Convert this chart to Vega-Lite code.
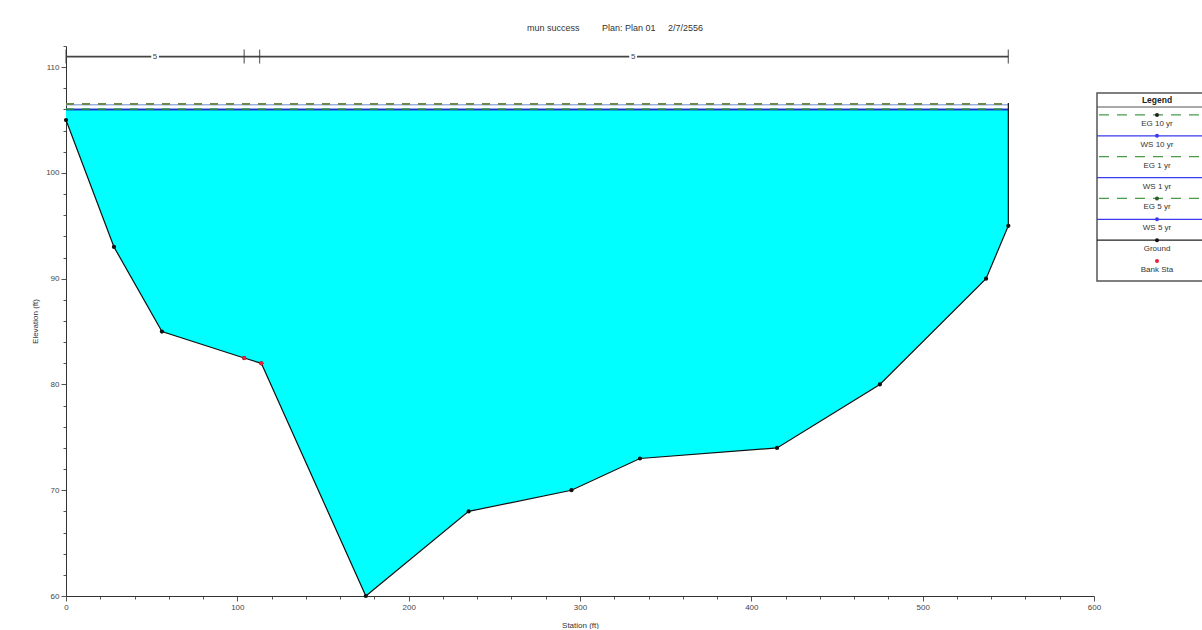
{
  "$schema": "https://vega.github.io/schema/vega-lite/v6.json",
  "autosize": {"type": "pad"},
  "padding": {"left": 31, "top": 24, "right": 0, "bottom": 0},
  "background": "white",
  "bounds": "flush",
  "spacing": 3,
  "config": {
    "view": {"stroke": null},
    "font": "Liberation Sans",
    "axis": {"grid": false}
  },
  "datasets": {
    "ground": [
      {"station": 0, "elev": 105, "ws": 106},
      {"station": 28, "elev": 93, "ws": 106},
      {"station": 56, "elev": 85, "ws": 106},
      {"station": 104, "elev": 82.5, "ws": 106},
      {"station": 114, "elev": 82, "ws": 106},
      {"station": 175, "elev": 60, "ws": 106},
      {"station": 235, "elev": 68, "ws": 106},
      {"station": 295, "elev": 70, "ws": 106},
      {"station": 335, "elev": 73, "ws": 106},
      {"station": 415, "elev": 74, "ws": 106},
      {"station": 475, "elev": 80, "ws": 106},
      {"station": 537, "elev": 90, "ws": 106},
      {"station": 550, "elev": 95, "ws": 106}
    ],
    "wall": [{"station": 550, "from": 95, "to": 106.6}],
    "bank": [{"station": 104, "elev": 82.5}, {"station": 114, "elev": 82}],
    "ws": [
      {"profile": "WS 10 yr", "station": 0, "elev": 106.45},
      {"profile": "WS 10 yr", "station": 550, "elev": 106.45},
      {"profile": "WS 1 yr", "station": 0, "elev": 106.0},
      {"profile": "WS 1 yr", "station": 550, "elev": 106.0},
      {"profile": "WS 5 yr", "station": 0, "elev": 106.0},
      {"profile": "WS 5 yr", "station": 550, "elev": 106.0}
    ],
    "eg": [
      {"profile": "EG 10 yr", "station": 0, "elev": 106.55},
      {"profile": "EG 10 yr", "station": 550, "elev": 106.55},
      {"profile": "EG 5 yr", "station": 0, "elev": 106.5},
      {"profile": "EG 5 yr", "station": 550, "elev": 106.5},
      {"profile": "EG 1 yr", "station": 0, "elev": 106.05},
      {"profile": "EG 1 yr", "station": 550, "elev": 106.05}
    ],
    "topbar": [{"from": 0, "to": 550, "elev": 111}],
    "topticks": [
      {"station": 0, "elev": 111},
      {"station": 104, "elev": 111},
      {"station": 113, "elev": 111},
      {"station": 550, "elev": 111}
    ],
    "toplabels": [
      {"station": 52, "elev": 111, "n": "5"},
      {"station": 331, "elev": 111, "n": "5"}
    ],
    "legend": [
      {"series": "Legend"},
      {"series": "EG 10 yr"},
      {"series": "WS 10 yr"},
      {"series": "EG 1 yr"},
      {"series": "WS 1 yr"},
      {"series": "EG 5 yr"},
      {"series": "WS 5 yr"},
      {"series": "Ground"},
      {"series": "Bank Sta"}
    ]
  },
  "hconcat": [
    {
      "width": 1028,
      "height": 550,
      "title": {
        "text": "mun success\u00a0\u00a0\u00a0\u00a0\u00a0\u00a0\u00a0\u00a0\u00a0Plan: Plan 01\u00a0\u00a0\u00a0\u00a0\u00a02/7/2556",
        "anchor": "middle",
        "dx": 35,
        "offset": 9,
        "fontSize": 9,
        "fontWeight": "normal",
        "color": "#333"
      },
      "layer": [
        {
          "data": {"name": "ground"},
          "mark": {"type": "area", "color": "#00ffff"},
          "encoding": {
            "x": {
              "field": "station",
              "type": "quantitative",
              "scale": {"domain": [0, 600], "nice": false},
              "axis": {
                "title": "Station (ft)",
                "values": [0, 20, 40, 60, 80, 100, 120, 140, 160, 180, 200, 220, 240, 260, 280, 300, 320, 340, 360, 380, 400, 420, 440, 460, 480, 500, 520, 540, 560, 580, 600],
                "tickCount": 100,
                "format": "d",
                "labelExpr": "datum.value % 100 === 0 ? datum.label : ''",
                "labelOverlap": false,
                "tickSize": {"condition": {"test": "datum.value % 100 === 0", "value": 5}, "value": 3},
                "labelFontSize": 8,
                "labelColor": "#444",
                "labelPadding": 2,
                "labelFlush": false,
                "titleFontSize": 8,
                "titleFontWeight": "normal",
                "titleColor": "#333",
                "titlePadding": 10,
                "domainColor": "#333",
                "tickColor": "#555"
              }
            },
            "y": {
              "field": "ws",
              "type": "quantitative",
              "scale": {"domain": [60, 112], "nice": false, "zero": false},
              "axis": {
                "title": "Elevation (ft)",
                "values": [60, 62, 64, 66, 68, 70, 72, 74, 76, 78, 80, 82, 84, 86, 88, 90, 92, 94, 96, 98, 100, 102, 104, 106, 108, 110, 112],
                "tickCount": 100,
                "format": "d",
                "labelExpr": "datum.value % 10 === 0 ? datum.label : ''",
                "labelOverlap": false,
                "tickSize": {"condition": {"test": "datum.value % 10 === 0", "value": 5}, "value": 3},
                "labelFontSize": 8,
                "labelColor": "#444",
                "labelPadding": 2,
                "titleFontSize": 8,
                "titleFontWeight": "normal",
                "titleColor": "#333",
                "titlePadding": 6,
                "domainColor": "#333",
                "tickColor": "#555"
              }
            },
            "y2": {"field": "elev"}
          }
        },
        {
          "data": {"name": "ws"},
          "mark": {"type": "line", "strokeWidth": 1.5},
          "encoding": {
            "x": {"field": "station", "type": "quantitative"},
            "y": {"field": "elev", "type": "quantitative"},
            "color": {
              "field": "profile",
              "type": "nominal",
              "scale": {"domain": ["WS 10 yr", "WS 1 yr", "WS 5 yr", "EG 10 yr", "EG 5 yr", "EG 1 yr"], "range": ["#9ab0e0", "#2030c0", "#2030c0", "#6a8a4a", "#6a8a4a", "#2e9a3e"]},
              "legend": null
            }
          }
        },
        {
          "data": {"name": "eg"},
          "mark": {"type": "line", "strokeWidth": 1.5, "strokeDash": [8, 8]},
          "encoding": {
            "x": {"field": "station", "type": "quantitative"},
            "y": {"field": "elev", "type": "quantitative"},
            "color": {"field": "profile", "type": "nominal", "legend": null}
          }
        },
        {
          "data": {"name": "ground"},
          "mark": {"type": "line", "color": "#111", "strokeWidth": 1.2},
          "encoding": {
            "x": {"field": "station", "type": "quantitative"},
            "y": {"field": "elev", "type": "quantitative"}
          }
        },
        {
          "data": {"name": "wall"},
          "mark": {"type": "rule", "color": "#111", "strokeWidth": 1.2},
          "encoding": {
            "x": {"field": "station", "type": "quantitative"},
            "y": {"field": "from", "type": "quantitative"},
            "y2": {"field": "to"}
          }
        },
        {
          "data": {"name": "ground"},
          "mark": {"type": "point", "filled": true, "color": "#111", "size": 18, "opacity": 1},
          "encoding": {
            "x": {"field": "station", "type": "quantitative"},
            "y": {"field": "elev", "type": "quantitative"}
          }
        },
        {
          "data": {"name": "bank"},
          "mark": {"type": "point", "filled": true, "color": "#e8203a", "size": 16, "opacity": 1},
          "encoding": {
            "x": {"field": "station", "type": "quantitative"},
            "y": {"field": "elev", "type": "quantitative"}
          }
        },
        {
          "data": {"name": "topbar"},
          "mark": {"type": "rule", "color": "#444", "strokeWidth": 1.8},
          "encoding": {
            "x": {"field": "from", "type": "quantitative"},
            "x2": {"field": "to"},
            "y": {"field": "elev", "type": "quantitative"}
          }
        },
        {
          "data": {"name": "topticks"},
          "mark": {"type": "tick", "orient": "vertical", "color": "#333", "size": 14, "thickness": 1.3},
          "encoding": {
            "x": {"field": "station", "type": "quantitative"},
            "y": {"field": "elev", "type": "quantitative"}
          }
        },
        {
          "data": {"name": "toplabels"},
          "mark": {"type": "square", "filled": true, "color": "white", "size": 60, "opacity": 1},
          "encoding": {
            "x": {"field": "station", "type": "quantitative"},
            "y": {"field": "elev", "type": "quantitative"}
          }
        },
        {
          "data": {"name": "toplabels"},
          "mark": {"type": "text", "fontSize": 8, "color": "#444", "baseline": "middle", "align": "center"},
          "encoding": {
            "x": {"field": "station", "type": "quantitative"},
            "y": {"field": "elev", "type": "quantitative"},
            "text": {"field": "n"}
          }
        }
      ]
    },
    {
      "bounds": "flush",
      "spacing": 3,
      "vconcat": [
        {
          "width": 120,
          "height": 44,
          "data": {"values": []},
          "mark": "point",
          "encoding": {}
        },
        {
          "width": 120,
          "height": 188,
          "view": {"stroke": "#555", "strokeWidth": 1.5, "fill": "white"},
          "data": {"name": "legend"},
          "encoding": {
            "y": {
              "field": "series",
              "type": "nominal",
              "bandPosition": 0,
              "scale": {"type": "band", "domain": ["Legend", "EG 10 yr", "WS 10 yr", "EG 1 yr", "WS 1 yr", "EG 5 yr", "WS 5 yr", "Ground", "Bank Sta"], "paddingInner": 0, "paddingOuter": 0},
              "axis": null
            }
          },
          "layer": [
            {
              "transform": [{"filter": "datum.series === 'Legend'"}],
              "mark": {"type": "text", "fontSize": 8.5, "fontWeight": "bold", "color": "#222", "baseline": "middle", "yOffset": 7},
              "encoding": {"text": {"field": "series"}}
            },
            {
              "transform": [{"filter": "datum.series === 'Legend'"}],
              "mark": {"type": "rule", "color": "#555", "strokeWidth": 1, "yOffset": 14}
            },
            {
              "transform": [{"filter": "datum.series !== 'Legend' && datum.series !== 'Bank Sta'"}],
              "mark": {"type": "rule", "strokeWidth": 1.2, "yOffset": 1},
              "encoding": {
                "stroke": {
                  "field": "series",
                  "type": "nominal",
                  "scale": {"domain": ["EG 10 yr", "WS 10 yr", "EG 1 yr", "WS 1 yr", "EG 5 yr", "WS 5 yr", "Ground"], "range": ["#4a9a4a", "#3a3aee", "#4a9a4a", "#3a3aee", "#4a9a4a", "#3a3aee", "#222"]},
                  "legend": null
                },
                "strokeDash": {
                  "field": "series",
                  "type": "nominal",
                  "scale": {"domain": ["EG 10 yr", "WS 10 yr", "EG 1 yr", "WS 1 yr", "EG 5 yr", "WS 5 yr", "Ground"], "range": [[10, 8], [1, 0], [10, 8], [1, 0], [10, 8], [1, 0], [1, 0]]},
                  "legend": null
                }
              }
            },
            {
              "transform": [{"filter": "datum.series !== 'Legend' && datum.series !== 'EG 1 yr' && datum.series !== 'WS 1 yr'"}],
              "mark": {"type": "point", "filled": true, "size": 16, "opacity": 1, "yOffset": 1},
              "encoding": {
                "fill": {
                  "field": "series",
                  "type": "nominal",
                  "scale": {"domain": ["EG 10 yr", "WS 10 yr", "EG 5 yr", "WS 5 yr", "Ground", "Bank Sta"], "range": ["#222", "#3a3aee", "#2a5a2a", "#3a3aee", "#111", "#e8203a"]},
                  "legend": null
                }
              }
            },
            {
              "transform": [{"filter": "datum.series !== 'Legend'"}],
              "mark": {"type": "text", "fontSize": 8, "color": "#333", "baseline": "middle", "yOffset": 10},
              "encoding": {"text": {"field": "series"}}
            }
          ]
        }
      ]
    }
  ]
}
